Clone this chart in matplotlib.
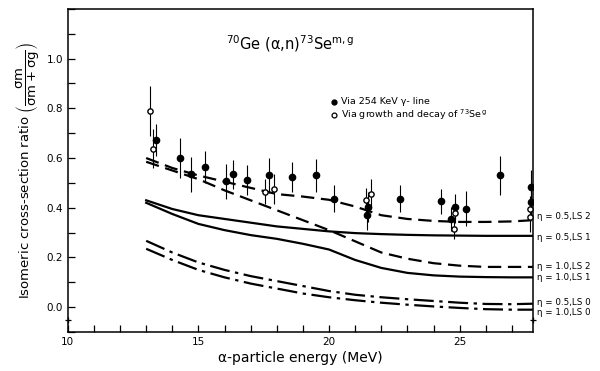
import matplotlib
matplotlib.use("Agg")
import matplotlib.pyplot as plt
from matplotlib.ticker import MultipleLocator

plt.rcParams['font.family'] = ['DejaVu Sans']
plt.rcParams['mathtext.fontset'] = 'dejavusans'
plt.rcParams['mathtext.default'] = 'regular'

# Theoretical curves: alpha energy (MeV) and calculated isomeric ratio
curve_energy = [13, 14, 15, 16, 17, 18, 19, 20, 21, 22, 23, 24, 25, 26, 27, 27.8]
eta05_ls2 = [0.600, 0.560, 0.530, 0.505, 0.480, 0.455, 0.445, 0.432, 0.405, 0.370,
             0.355, 0.347, 0.343, 0.343, 0.345, 0.350]
eta10_ls2 = [0.585, 0.550, 0.515, 0.470, 0.430, 0.390, 0.350, 0.310, 0.265, 0.220,
             0.195, 0.177, 0.167, 0.162, 0.162, 0.162]
eta05_ls1 = [0.430, 0.395, 0.370, 0.355, 0.340, 0.325, 0.315, 0.305, 0.298, 0.294,
             0.291, 0.289, 0.288, 0.287, 0.287, 0.287]
eta10_ls1 = [0.420, 0.375, 0.335, 0.310, 0.290, 0.275, 0.255, 0.232, 0.190, 0.158,
             0.138, 0.128, 0.123, 0.121, 0.120, 0.120]
eta05_ls0 = [0.267, 0.220, 0.180, 0.150, 0.125, 0.105, 0.085, 0.065, 0.050, 0.040,
             0.032, 0.025, 0.018, 0.013, 0.012, 0.014]
eta10_ls0 = [0.235, 0.190, 0.150, 0.120, 0.095, 0.075, 0.055, 0.040, 0.028, 0.018,
             0.010, 0.003, -0.003, -0.008, -0.010, -0.010]

# Measured ratios via the 254 keV gamma line
gamma_energy = [13.39, 14.31, 14.73, 15.26, 16.07, 16.32, 16.87, 17.70, 18.57, 19.51,
                20.20, 21.44, 21.48, 22.70, 24.29, 24.68, 24.81, 25.25, 26.56, 27.72, 27.72]
gamma_ratio = [0.673, 0.600, 0.534, 0.564, 0.507, 0.534, 0.511, 0.530, 0.524, 0.530,
               0.437, 0.370, 0.404, 0.436, 0.426, 0.355, 0.404, 0.397, 0.530, 0.482, 0.422]
gamma_err = [0.065, 0.080, 0.070, 0.065, 0.070, 0.060, 0.060, 0.070, 0.060, 0.065,
             0.055, 0.060, 0.060, 0.055, 0.050, 0.050, 0.050, 0.070, 0.080, 0.070, 0.070]

# Measured ratios via growth and decay of 73Se g
growth_energy = [13.14, 13.26, 17.53, 17.88, 21.40, 21.59, 24.77, 24.81, 27.69, 27.69]
growth_ratio = [0.788, 0.638, 0.464, 0.474, 0.430, 0.457, 0.315, 0.379, 0.397, 0.363]
growth_err = [0.100, 0.080, 0.050, 0.060, 0.050, 0.060, 0.040, 0.040, 0.050, 0.060]

curve_labels = ["η = 0.5,LS 2", "η = 0.5,LS 1", "η = 1.0,LS 2",
                "η = 1.0,LS 1", "η = 0.5,LS 0", "η = 1.0,LS 0"]

fig = plt.figure(figsize=(6.0, 3.71), dpi=100)
ax = fig.add_axes([0.113, 0.105, 0.775, 0.871])

dash = (0, (6, 3))
dashdot = (0, (9, 2.5, 1.5, 2.5))
lw = 1.6
ax.plot(curve_energy, eta05_ls2, color='black', lw=lw, linestyle=dash)
ax.plot(curve_energy, eta10_ls2, color='black', lw=lw, linestyle=dash)
ax.plot(curve_energy, eta05_ls1, color='black', lw=lw)
ax.plot(curve_energy, eta10_ls1, color='black', lw=lw)
ax.plot(curve_energy, eta05_ls0, color='black', lw=lw, linestyle=dashdot)
ax.plot(curve_energy, eta10_ls0, color='black', lw=lw, linestyle=dashdot)

ax.errorbar(gamma_energy, gamma_ratio, yerr=gamma_err, fmt='o', color='black',
            markersize=4.5, elinewidth=0.8, capsize=0, zorder=4)
ax.errorbar(growth_energy, growth_ratio, yerr=growth_err, fmt='o', color='black',
            markerfacecolor='white', markeredgewidth=1.0, markersize=3.8,
            elinewidth=0.8, capsize=0, zorder=5)

ax.set_xlim(10, 27.8)
ax.set_ylim(-0.1, 1.2)
ax.xaxis.set_major_locator(MultipleLocator(5))
ax.xaxis.set_minor_locator(MultipleLocator(1))
ax.yaxis.set_major_locator(MultipleLocator(0.2))
ax.yaxis.set_minor_locator(MultipleLocator(0.1))
ax.set_yticks([0.0, 0.2, 0.4, 0.6, 0.8, 1.0])
ax.set_yticklabels(['0.0', '0.2', '0.4', '0.6', '0.8', '1.0'])
ax.tick_params(which='both', direction='in', labelsize=7.5, top=False, right=False)
ax.tick_params(which='major', length=5, width=0.9)
ax.tick_params(which='minor', length=5, width=0.9)
for s in ax.spines.values():
    s.set_linewidth(1.1)

# small cross marks on both vertical spines
ax.plot([10, 27.8], [-0.05, -0.05], '+', color='black', markersize=4,
        markeredgewidth=0.9, clip_on=False, zorder=6)

ax.set_xlabel("α-particle energy (MeV)", fontsize=10, labelpad=3)
ax.set_ylabel(r"Isomeric cross-section ratio $\left(\dfrac{\sigma m}{\sigma m+\sigma g}\right)$",
              fontsize=9.5, labelpad=4)

ax.text(18.5, 1.06, r"$^{70}$Ge (α,n)$^{73}$Se$^{m,g}$", fontsize=10.5,
        ha='center', va='center')

# Symbol key
ax.plot([20.2], [0.826], 'o', color='black', markersize=3.5)
ax.plot([20.2], [0.774], 'o', color='black', markerfacecolor='white',
        markersize=3.5, markeredgewidth=0.9)
ax.text(20.45, 0.826, "Via 254 KeV γ- line", fontsize=6.8, va='center')
ax.text(20.45, 0.774, r"Via growth and decay of $^{73}$Se$^{\,g}$", fontsize=6.8,
        va='center')

# Curve labels outside the right edge
label_y = [0.364, 0.282, 0.162, 0.121, 0.020, -0.020]
for lab, yv in zip(curve_labels, label_y):
    ax.text(1.008, yv, lab, transform=ax.get_yaxis_transform(), fontsize=6.3,
            va='center', ha='left')

fig.savefig("out.png", dpi=100)
